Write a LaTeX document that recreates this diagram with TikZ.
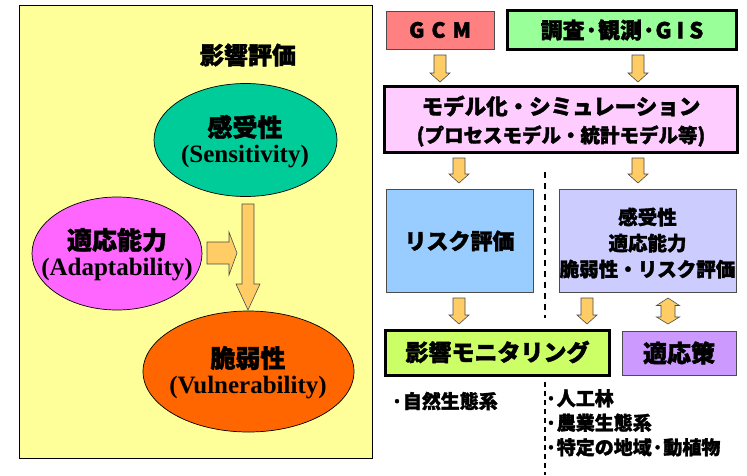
\documentclass[tikz,border=0pt]{standalone}
\usepackage{fontspec}
\setmainfont{Liberation Serif}
\newfontfamily\jpfont[BoldFeatures={FakeBold=1.6}]{Noto Sans CJK JP}
\usetikzlibrary{shapes.geometric}
\definecolor{panelY}{HTML}{FFFF99}
\definecolor{sensG}{HTML}{00CC99}
\definecolor{adaptM}{HTML}{FF66FF}
\definecolor{vulnO}{HTML}{FF6600}
\definecolor{arrowF}{HTML}{FFCC66}
\definecolor{gcmR}{HTML}{FF8080}
\definecolor{survG}{HTML}{99FF99}
\definecolor{modelP}{HTML}{FFCCFF}
\definecolor{riskB}{HTML}{99CCFF}
\definecolor{sensL}{HTML}{CCCCFF}
\definecolor{monG}{HTML}{CCFF66}
\definecolor{adaptV}{HTML}{CC99FF}
\newcommand\bdown[6]{\draw[blockarrow] (#1-#4,#2) -- (#1+#4,#2) -- (#1+#4,#3-#6) -- (#1+#5,#3-#6) -- (#1,#3) -- (#1-#5,#3-#6) -- (#1-#4,#3-#6) -- cycle;}
\begin{document}
\begin{tikzpicture}[x=1pt,y=-1pt,
  blockarrow/.style={draw=black!70, line width=0.6pt, fill=arrowF},
  ell/.style={ellipse, draw=black, line width=0.7pt, inner sep=0pt},
  thinbox/.style={rectangle, draw=black!70, line width=0.8pt, inner sep=0pt},
  thickbox/.style={rectangle, draw=black, line width=2.4pt, inner sep=0pt},
  jt/.style={font=\jpfont\bfseries, text=black, align=center, inner sep=0pt},
  et/.style={font=\bfseries\fontsize{25}{30}\selectfont, inner sep=0pt},
  sep/.style={line width=2.4pt, dash pattern=on 6pt off 5pt}]
\useasboundingbox (0,0) rectangle (747,475);
\fill[white] (0,0) rectangle (747,475);
% left panel
\node[rectangle, draw=black, line width=0.9pt, fill=panelY, minimum width=353pt, minimum height=453pt, inner sep=0pt] (panel) at (195.5,231.5) {};
\node[jt, font=\jpfont\bfseries\fontsize{24}{28}\selectfont] (title) at (248,55) {影響評価};
\node[ell, fill=sensG, minimum width=183pt, minimum height=113pt] (sens) at (245.5,140) {};
\node[ell, fill=adaptM, minimum width=170pt, minimum height=113pt] (adapt) at (117,253.5) {};
\node[ell, fill=vulnO, minimum width=211pt, minimum height=121pt] (vuln) at (248.5,371.5) {};
\node[jt, font=\jpfont\bfseries\fontsize{25}{28}\selectfont] (sensJ) at (245,127) {感受性};
\node[et] (sensE) at (245,157) {(Sensitivity)};
\node[jt, font=\jpfont\bfseries\fontsize{25}{28}\selectfont] (adaptJ) at (117,240) {適応能力};
\node[et] (adaptE) at (117,270) {(Adaptability)};
\node[jt, font=\jpfont\bfseries\fontsize{25}{28}\selectfont] (vulnJ) at (248,358) {脆弱性};
\node[et] (vulnE) at (248,388) {(Vulnerability)};
% left arrows
\draw[blockarrow] (242,204) -- (254,204) -- (254,284) -- (260,284) -- (248,310) -- (236,284) -- (242,284) -- cycle;
\draw[blockarrow] (207,242) -- (229,242) -- (229,232) -- (237,253) -- (229,275) -- (229,264) -- (207,264) -- cycle;
% right side boxes
\node[thinbox, fill=gcmR, minimum width=108pt, minimum height=38pt] (gcm) at (440,30) {};
\node[jt, font=\jpfont\bfseries\fontsize{21}{24}\selectfont] (gcmT) at (440,30) {G\hspace{7pt}C\hspace{7pt}M};
\node[thickbox, fill=survG, minimum width=229pt, minimum height=39pt] (surv) at (622,30) {};
\node[jt, font=\jpfont\bfseries\fontsize{22}{24}\selectfont] (survT) at (622,30) {調査·観測·G\hspace{5pt}I\hspace{5pt}S};
\node[thickbox, fill=modelP, minimum width=353pt, minimum height=66pt] (model) at (561,119.5) {};
\node[jt, font=\jpfont\bfseries\fontsize{21.5}{24}\selectfont] (modelT1) at (561,106) {モデル化・シミュレーション};
\node[jt, font=\jpfont\bfseries\fontsize{19.5}{24}\selectfont] (modelT2) at (561,136) {(プロセスモデル・統計モデル等)};
\node[thinbox, fill=riskB, minimum width=147pt, minimum height=103pt] (risk) at (459.5,240.5) {};
\node[jt, font=\jpfont\bfseries\fontsize{22}{24}\selectfont] (riskT) at (459.5,241) {リスク評価};
\node[thinbox, fill=sensL, minimum width=177pt, minimum height=103pt] (sens2) at (647.5,240.5) {};
\node[jt, font=\jpfont\bfseries\fontsize{19.5}{26}\selectfont] (sens2T) at (647.5,243) {感受性\\適応能力\\脆弱性・リスク評価};
\node[thickbox, fill=monG, minimum width=224pt, minimum height=45pt] (mon) at (497.5,353) {};
\node[jt, font=\jpfont\bfseries\fontsize{23}{26}\selectfont] (monT) at (497.5,352) {影響モニタリング};
\node[thinbox, fill=adaptV, minimum width=114pt, minimum height=44pt] (adapt2) at (679,353) {};
\node[jt, font=\jpfont\bfseries\fontsize{24}{26}\selectfont] (adapt2T) at (679,353) {適応策};
% bottom texts
\node[jt, anchor=west, font=\jpfont\bfseries\fontsize{19}{24}\selectfont] (nat) at (391,401) {·自然生態系};
\node[jt, anchor=north west, align=left, font=\jpfont\bfseries\fontsize{19}{24.5}\selectfont] (art) at (545,389) {·人工林\\·農業生態系\\·特定の地域·動植物};
% arrows
\bdown{440}{55}{82}{6}{10}{9}
\bdown{638}{55}{82}{6}{10}{9}
\bdown{459}{158}{183}{6}{10}{9}
\bdown{638}{158}{183}{6}{10}{9}
\bdown{459}{298}{324}{6}{10}{9}
\bdown{587}{298}{324}{6}{10}{9}
\draw[blockarrow] (668,298) -- (679.5,305.5) -- (675,305.5) -- (675,317) -- (679.5,317) -- (668,324) -- (656.5,317) -- (661,317) -- (661,305.5) -- (656.5,305.5) -- cycle;
% separator
\coordinate (s1) at (545,172);
\coordinate (s2) at (545,318);
\coordinate (s3) at (545,382);
\coordinate (s4) at (545,475);
\draw[sep] (s1) -- (s2);
\draw[sep, dash pattern=on 5pt off 4pt] (s3) -- (s4);
\end{tikzpicture}
\end{document}
